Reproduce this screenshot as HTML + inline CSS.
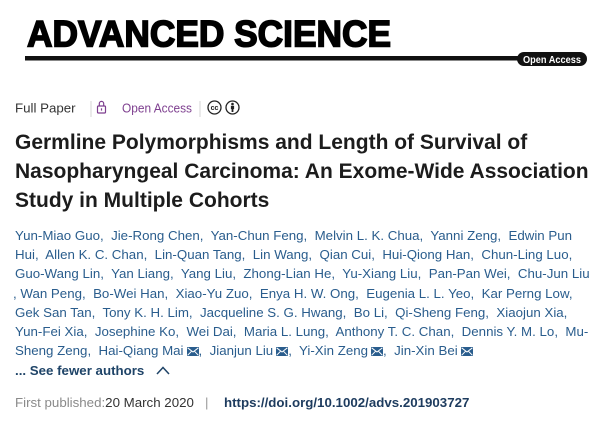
<!DOCTYPE html>
<html><head><meta charset="utf-8"><style>
html,body{margin:0;padding:0;background:#fff;}
body{width:604px;height:425px;position:relative;overflow:hidden;font-family:"Liberation Sans",Arial,sans-serif;}
.authors{position:absolute;left:15px;top:225.7px;font-size:13.3px;line-height:19.3px;color:#2a5d8d;}
.authors div{height:19.3px;white-space:pre;}
.env{display:inline-block;width:12px;height:9px;margin-left:3px;vertical-align:-1px;}
.more{font-weight:bold;color:#1f4468;}
.pub{position:absolute;left:15px;top:393.4px;font-size:13.3px;line-height:19.3px;white-space:pre;}
</style></head><body>
<svg width="604" height="425" style="position:absolute;left:0;top:0" xmlns="http://www.w3.org/2000/svg">
  <text x="27" y="46.5" font-family="Liberation Sans, Arial, sans-serif" font-weight="bold" font-size="37" fill="#000" stroke="#000" stroke-width="1.6" textLength="364" lengthAdjust="spacingAndGlyphs">ADVANCED SCIENCE</text>
  <rect x="25" y="56" width="495" height="4.5" fill="#111"/>
  <rect x="517" y="52" width="70" height="14" rx="7" fill="#111"/>
  <text x="552" y="63" text-anchor="middle" font-family="Liberation Sans, Arial, sans-serif" font-weight="bold" font-size="10.5" fill="#fff" textLength="58" lengthAdjust="spacingAndGlyphs">Open Access</text>

  <text x="15" y="112.7" font-family="Liberation Sans, Arial, sans-serif" font-size="13.3" fill="#333">Full Paper</text>
  <line x1="91" y1="101" x2="91" y2="117" stroke="#d5d5d5" stroke-width="1"/>
  <path d="M99.3 106 V103.6 A2.2 2.2 0 0 1 103.7 103.6 V106" fill="none" stroke="#7e3f8f" stroke-width="1.2"/>
  <rect x="97.5" y="106" width="8" height="7" rx="1" fill="none" stroke="#7e3f8f" stroke-width="1.2"/>
  <line x1="101.5" y1="108.3" x2="101.5" y2="110.6" stroke="#7e3f8f" stroke-width="1.2"/>
  <text x="122" y="112.7" font-family="Liberation Sans, Arial, sans-serif" font-size="13" fill="#7e3f8f" textLength="70" lengthAdjust="spacingAndGlyphs">Open Access</text>
  <line x1="200" y1="101" x2="200" y2="117" stroke="#d5d5d5" stroke-width="1"/>
  <circle cx="214.5" cy="107.5" r="6.5" fill="none" stroke="#222" stroke-width="1.3"/>
  <text x="214.5" y="110" text-anchor="middle" font-family="Liberation Sans, Arial, sans-serif" font-weight="bold" font-size="7" fill="#222">cc</text>
  <circle cx="232.5" cy="107.5" r="6.5" fill="none" stroke="#222" stroke-width="1.3"/>
  <circle cx="232.5" cy="104" r="1.3" fill="#222"/>
  <rect x="230.9" y="105.8" width="3.2" height="3.3" fill="#222"/>
  <rect x="231.6" y="108.8" width="1.8" height="3.2" fill="#222"/>

  <g font-family="Liberation Sans, Arial, sans-serif" font-weight="bold" font-size="21" fill="#1c1c1c">
    <text x="15" y="149">Germline Polymorphisms and Length of Survival of</text>
    <text x="15" y="178">Nasopharyngeal Carcinoma: An Exome-Wide Association</text>
    <text x="15" y="207">Study in Multiple Cohorts</text>
  </g>
</svg>

<div class="authors">
<div>Yun-Miao Guo,  Jie-Rong Chen,  Yan-Chun Feng,  Melvin L. K. Chua,  Yanni Zeng,  Edwin Pun</div>
<div>Hui,  Allen K. C. Chan,  Lin-Quan Tang,  Lin Wang,  Qian Cui,  Hui-Qiong Han,  Chun-Ling Luo,</div>
<div>Guo-Wang Lin,  Yan Liang,  Yang Liu,  Zhong-Lian He,  Yu-Xiang Liu,  Pan-Pan Wei,  Chu-Jun Liu</div>
<div style="margin-left:-2px">, Wan Peng,  Bo-Wei Han,  Xiao-Yu Zuo,  Enya H. W. Ong,  Eugenia L. L. Yeo,  Kar Perng Low,</div>
<div>Gek San Tan,  Tony K. H. Lim,  Jacqueline S. G. Hwang,  Bo Li,  Qi-Sheng Feng,  Xiaojun Xia,</div>
<div>Yun-Fei Xia,  Josephine Ko,  Wei Dai,  Maria L. Lung,  Anthony T. C. Chan,  Dennis Y. M. Lo,  Mu-</div>
<div>Sheng Zeng,  Hai-Qiang Mai<svg class="env" viewBox="0 0 12 9"><rect width="12" height="9" fill="#2a5d8d"/><polyline points="0.6,0.8 6,5 11.4,0.8" fill="none" stroke="#fff" stroke-width="1"/><path d="M0.6 8.3 L4.6 4.2 M11.4 8.3 L7.4 4.2" stroke="#fff" stroke-width="1"/></svg>,  Jianjun Liu<svg class="env" viewBox="0 0 12 9"><rect width="12" height="9" fill="#2a5d8d"/><polyline points="0.6,0.8 6,5 11.4,0.8" fill="none" stroke="#fff" stroke-width="1"/><path d="M0.6 8.3 L4.6 4.2 M11.4 8.3 L7.4 4.2" stroke="#fff" stroke-width="1"/></svg>,  Yi-Xin Zeng<svg class="env" viewBox="0 0 12 9"><rect width="12" height="9" fill="#2a5d8d"/><polyline points="0.6,0.8 6,5 11.4,0.8" fill="none" stroke="#fff" stroke-width="1"/><path d="M0.6 8.3 L4.6 4.2 M11.4 8.3 L7.4 4.2" stroke="#fff" stroke-width="1"/></svg>,  Jin-Xin Bei<svg class="env" viewBox="0 0 12 9"><rect width="12" height="9" fill="#2a5d8d"/><polyline points="0.6,0.8 6,5 11.4,0.8" fill="none" stroke="#fff" stroke-width="1"/><path d="M0.6 8.3 L4.6 4.2 M11.4 8.3 L7.4 4.2" stroke="#fff" stroke-width="1"/></svg></div>
<div class="more">... See fewer authors<svg width="14" height="9" viewBox="0 0 14 9" style="margin-left:12px;vertical-align:0px"><polyline points="1,8 7,1.5 13,8" fill="none" stroke="#1f4468" stroke-width="1.5"/></svg></div>
</div>

<div class="pub"><span style="color:#8a8a8a">First published:</span><span style="color:#333">20 March 2020</span><span style="color:#999">   |</span></div>
<div class="pub" style="left:224px;font-weight:bold;color:#1d3b5e">https://doi.org/10.1002/advs.201903727</div>
</body></html>
